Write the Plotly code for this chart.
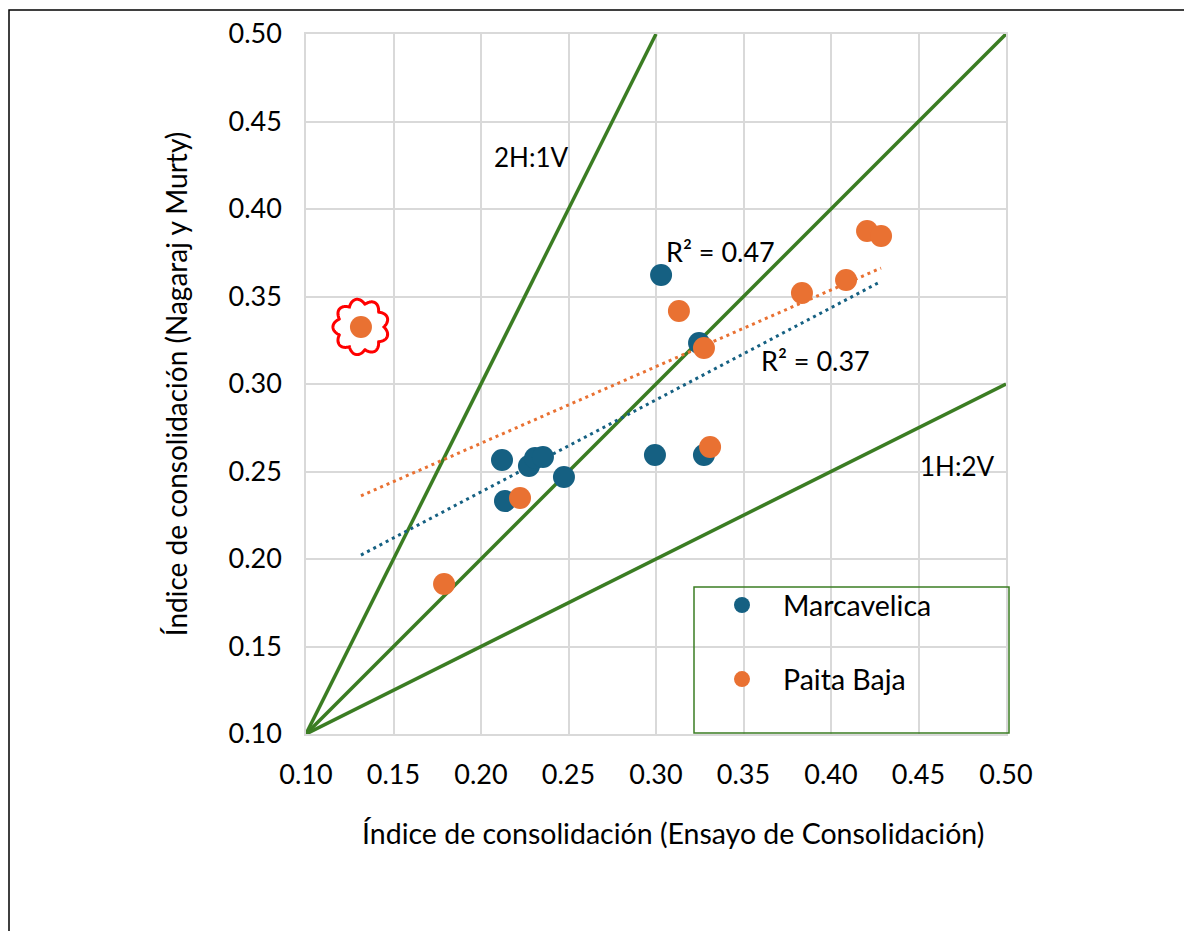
import numpy as np
import plotly.graph_objects as go

# ---- data ----
marc_x = [0.212, 0.2137, 0.2274, 0.2309, 0.2354, 0.2474, 0.3029, 0.2994, 0.3246, 0.3274]
marc_y = [0.2566, 0.2331, 0.2531, 0.2577, 0.2583, 0.2469, 0.3623, 0.2594, 0.3234, 0.2594]

paita_x = [0.1314, 0.1789, 0.2223, 0.3131, 0.3274, 0.3309, 0.3834, 0.4086, 0.4206, 0.4286]
paita_y = [0.3326, 0.1857, 0.2349, 0.3417, 0.3206, 0.2640, 0.3520, 0.3594, 0.3874, 0.3846]

trend_x_range = [0.1314, 0.4286]

ref_lines = {
    "1:1": ([0.10, 0.50], [0.10, 0.50]),
    "2H:1V": ([0.10, 0.30], [0.10, 0.50]),
    "1H:2V": ([0.10, 0.50], [0.10, 0.30]),
}

labels = [
    ("2H:1V", 0.2286, 0.430, 26),
    ("1H:2V", 0.472, 0.2531, 26),
    ("R² = 0.47", 0.3366, 0.376, 27),
    ("R² = 0.37", 0.3909, 0.3137, 27),
]

x_title = "Índice de consolidación (Ensayo de Consolidación)"
y_title = "Índice de consolidación (Nagaraj y Murty)"

tick_vals = [0.10, 0.15, 0.20, 0.25, 0.30, 0.35, 0.40, 0.45, 0.50]
tick_text = ["0.10", "0.15", "0.20", "0.25", "0.30", "0.35", "0.40", "0.45", "0.50"]

BLUE = "#156082"
ORANGE = "#E97132"
GREEN = "#3B7D23"
FONT = "Lato"

# page offset of the browser body (8px) compensated below
OFF = 8
W, H = 1192 - 2 * OFF, 939 - 2 * OFF
L, T = 306 - OFF, 34 - OFF
R = W - L - 700
B = H - T - 700


def py(pix):  # image pixel row -> paper y
    return (734 - pix) / 700


def px(pix):  # image pixel column -> paper x
    return (pix - 306) / 700


fig = go.Figure()

for name, (lx, ly) in ref_lines.items():
    fig.add_trace(go.Scatter(x=lx, y=ly, mode="lines", showlegend=False,
                             line=dict(color=GREEN, width=3.5), hoverinfo="skip"))


def trend(xs, ys, color):
    m, b = np.polyfit(xs, ys, 1)
    tx = np.array(trend_x_range)
    fig.add_trace(go.Scatter(x=tx, y=m * tx + b, mode="lines", showlegend=False,
                             line=dict(color=color, width=3, dash="3px,4px"),
                             hoverinfo="skip"))


trend(paita_x, paita_y, ORANGE)
trend(marc_x, marc_y, BLUE)

fig.add_trace(go.Scatter(x=marc_x, y=marc_y, mode="markers", name="Marcavelica",
                         legendgroup="a",
                         marker=dict(color=BLUE, size=22, line=dict(width=0))))
fig.add_trace(go.Scatter(x=paita_x, y=paita_y, mode="markers", name="Paita Baja",
                         legendgroup="b",
                         marker=dict(color=ORANGE, size=22, line=dict(width=0))))

for txt, x, y, fs in labels:
    fig.add_annotation(x=x, y=y, text=txt, showarrow=False,
                       font=dict(family=FONT, size=fs, color="black"))

# x-axis title (offset to the right of the plot centre, as in the reference)
fig.add_annotation(xref="paper", yref="paper", x=px(673), y=py(833),
                   xanchor="center", yanchor="middle", showarrow=False,
                   text=x_title, font=dict(family=FONT, size=28.5, color="black"))

# cloud around the outlier point (in data units, around the first Paita point)
cx, cy = paita_x[0], paita_y[0]
px_per_unit = 1750.0
th = np.linspace(0, 2 * np.pi, 400)
r = (23 + 5 * np.abs(np.sin(4.5 * th))) / px_per_unit
xs = cx + r * np.cos(th)
ys = cy + r * np.sin(th)
path = "M " + " L ".join(f"{a:.5f},{b:.5f}" for a, b in zip(xs, ys)) + " Z"
fig.add_shape(type="path", path=path, xref="x", yref="y",
              line=dict(color="#FF0000", width=3))

# legend frame
fig.add_shape(type="rect", xref="paper", yref="paper",
              x0=px(694), x1=px(1009), y0=py(733), y1=py(587),
              line=dict(color=GREEN, width=1.5))

# outer chart frame
fig.add_shape(type="rect", xref="paper", yref="paper",
              x0=px(9), x1=px(1230), y0=py(990), y1=py(10),
              line=dict(color="black", width=1.5))

axis_common = dict(range=[0.10, 0.50], tickvals=tick_vals, ticktext=tick_text,
                   showgrid=True, gridcolor="#D9D9D9", gridwidth=1.5,
                   showline=True, linecolor="#D9D9D9", linewidth=1.5, mirror=True,
                   zeroline=False, ticks="outside", tickcolor="rgba(0,0,0,0)",
                   tickfont=dict(family=FONT, size=27, color="black"))

fig.update_xaxes(**axis_common, ticklen=16)
fig.update_yaxes(**axis_common, ticklen=17,
                 title=dict(text=y_title,
                            font=dict(family=FONT, size=28, color="black"), standoff=33))

fig.update_layout(
    width=W, height=H,
    margin=dict(l=L, r=R, t=T, b=B, autoexpand=False),
    plot_bgcolor="white", paper_bgcolor="white",
    font=dict(family=FONT, size=28, color="black"),
    legend=dict(x=px(701), y=py(580), xanchor="left", yanchor="top",
                bgcolor="rgba(0,0,0,0)", borderwidth=0, itemwidth=72,
                tracegroupgap=34, traceorder="grouped",
                font=dict(family=FONT, size=28.5, color="black")),
)

fig.write_html("out.html")
